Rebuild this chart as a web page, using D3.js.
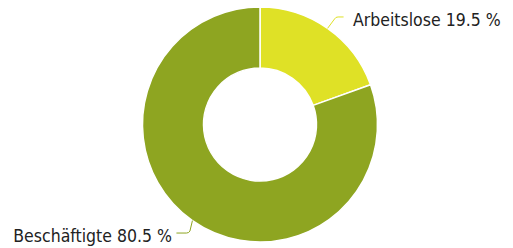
<!DOCTYPE html>
<html>
<head>
<meta charset="utf-8">
<script src="https://cdn.jsdelivr.net/npm/d3@7"></script>
<style>
  body { margin: 0; background: #fff; }
  svg { display: block; }
  text { font-family: "DejaVu Sans Condensed", "DejaVu Sans", sans-serif; font-stretch: condensed; font-size: 17.5px; fill: #222; }
</style>
</head>
<body>
<svg id="chart" width="513" height="248"></svg>
<script>
const categories = ["Arbeitslose", "Beschäftigte"];
const values = [19.5, 80.5];
const sliceColors = ["#dfe126", "#8ea521"];

const cx = 260, cy = 124.5;
const outerR = 117.5, innerR = 56.5;

const svg = d3.select("#chart");
const g = svg.append("g").attr("transform", `translate(${cx},${cy})`);

const pie = d3.pie().sort(null).value(d => d)(values);
const arc = d3.arc().innerRadius(innerR).outerRadius(outerR);

g.selectAll("path.slice")
  .data(pie)
  .join("path")
  .attr("class", "slice")
  .attr("d", arc)
  .attr("fill", (d, i) => sliceColors[i])
  .attr("stroke", "#fff")
  .attr("stroke-width", 1.5)
  .attr("stroke-linejoin", "round");

// labels with crooked connectors
const edge = d3.arc().innerRadius(outerR).outerRadius(outerR);
pie.forEach((d, i) => {
  const [ex, ey] = edge.centroid(d);
  const right = ex > 0;
  const dir = right ? 1 : -1;
  const up = ey < 0 ? -1 : 1;
  const ky = ey + up * (up < 0 ? 11.4 : 12.4);   // hight of the horizontal run
  const kx = right ? ex + 9 : ex - 4.5;           // where the crook ends
  const lx = ex + dir * 16;                        // end of the run
  g.append("path")
    .attr("d", `M${ex},${ey} L${kx - dir * 2},${ky - up * 2} Q${kx - dir * 1},${ky} ${kx + dir * 1.5},${ky} L${lx},${ky}`)
    .attr("fill", "none")
    .attr("stroke", sliceColors[i])
    .attr("stroke-width", 1);
  g.append("text")
    .attr("x", right ? lx + 9.5 : lx - 4.5)
    .attr("y", ky + 9)
    .attr("text-anchor", right ? "start" : "end")
    .text(`${categories[i]} ${values[i]} %`);
});
</script>
</body>
</html>
